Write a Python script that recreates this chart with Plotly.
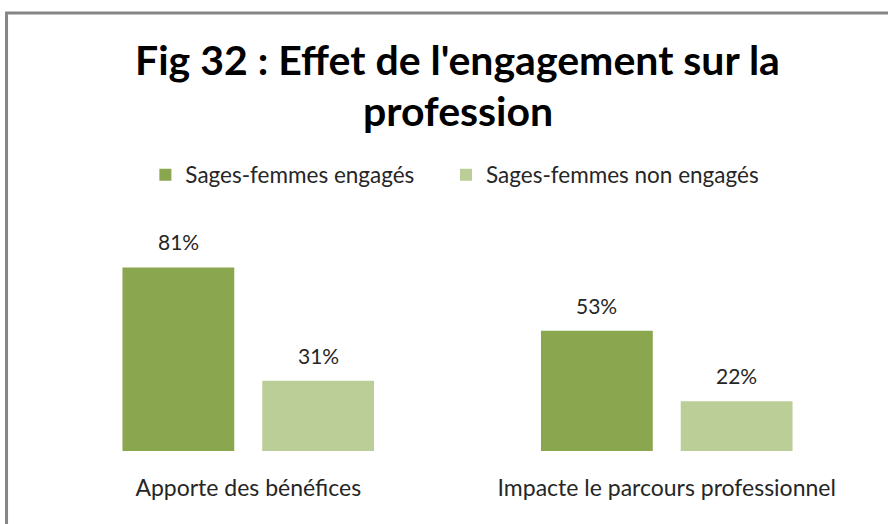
import plotly.graph_objects as go

categories = ["Apporte des bénéfices", "Impacte le parcours professionnel"]
series_names = ["Sages-femmes engagés", "Sages-femmes non engagés"]
engages = [81, 53]
non_engages = [31, 22]
title_lines = ["Fig 32 : Effet de l'engagement sur la", "profession"]
colors = ["#8AA64F", "#BBCE97"]

W, H = 888, 524
L, R, T, B = 38.5, 11.5, 247, 73
pw, ph = W - L - R, H - T - B
BARGAP = 0.332
FONT = "Lato"

def px(x):
    return (x - L) / pw

def py(y):
    return (H - B - y) / ph

fig = go.Figure()
for i, (name, vals, col) in enumerate(zip(series_names, [engages, non_engages], colors)):
    fig.add_trace(go.Bar(
        x=categories, y=vals, name=name, marker=dict(color=col, line=dict(width=0)),
        hoverinfo="name+y", legend="legend" if i == 0 else "legend2",
    ))

annotations = []
slot = (1 - BARGAP) / 2
for si, vals in enumerate([engages, non_engages]):
    off = (si - 0.5) * slot
    for ci, v in enumerate(vals):
        annotations.append(dict(
            x=ci + off, y=v, xref="x", yref="y", text=f"{v}%", showarrow=False,
            yanchor="bottom", yshift=11,
            font=dict(family=FONT, size=21, color="#262626")))

for line, yc in zip(title_lines, [59, 110]):
    annotations.append(dict(
        x=0.5, xref="paper", y=py(yc), yref="paper", text=f"<b>{line}</b>",
        showarrow=False, xanchor="center", yanchor="middle",
        font=dict(family=FONT, size=41, color="#000000")))

leg_common = dict(orientation="h", xanchor="left", y=py(175), yanchor="middle",
                  font=dict(family=FONT, size=22.5, color="#262626"),
                  bgcolor="rgba(0,0,0,0)")

fig.update_layout(
    width=W, height=H,
    margin=dict(l=L, r=R, t=T, b=B),
    paper_bgcolor="white", plot_bgcolor="white",
    barmode="group", bargap=BARGAP, bargroupgap=0.2,
    legend=dict(x=px(145), **leg_common),
    legend2=dict(x=px(446), **leg_common),
    xaxis=dict(showline=False, showgrid=False, zeroline=False, ticks="",
               tickfont=dict(family=FONT, size=23, color="#262626"),
               ticklabelstandoff=21),
    yaxis=dict(range=[0, 90], visible=False),
    annotations=annotations,
    shapes=[dict(type="rect", xref="paper", yref="paper",
                 x0=px(6), x1=px(900), y0=py(540), y1=py(13),
                 line=dict(color="#868686", width=3), fillcolor="rgba(0,0,0,0)")],
    showlegend=True,
)

fig.write_html("out.html", config={"displayModeBar": False},
               post_script="document.body.style.margin='0';document.body.style.overflow='hidden';")
